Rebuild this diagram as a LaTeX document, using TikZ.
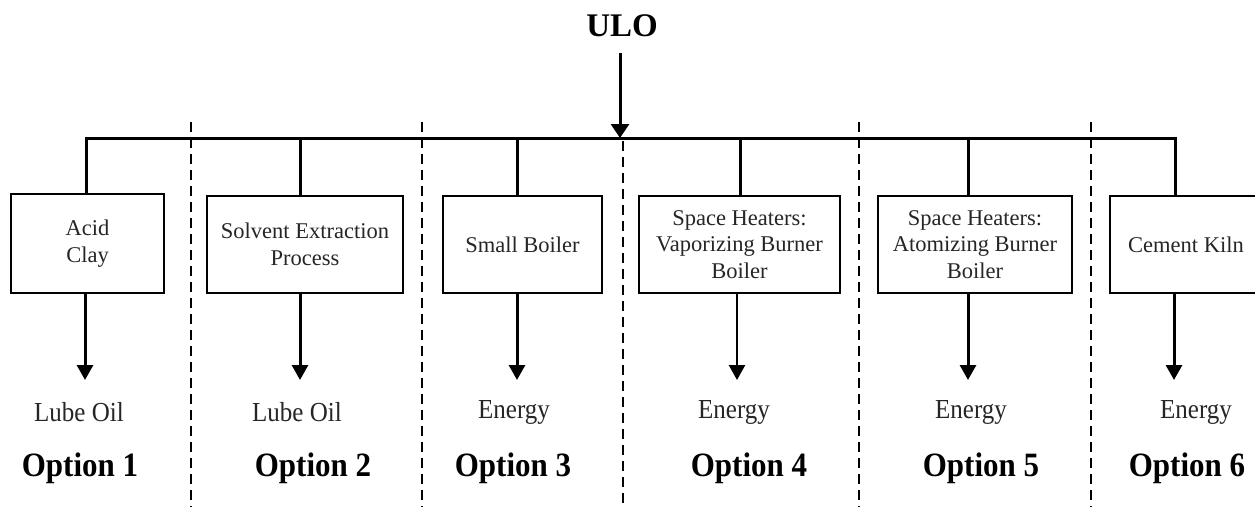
\documentclass[tikz,border=0pt]{standalone}
\usepackage{fontspec}
\setmainfont{Liberation Serif}
\usetikzlibrary{arrows.meta}
\tikzset{
  procbox/.style={draw=black, line width=2pt, inner sep=0pt, align=center,
    font=\fontsize{22.5}{26.5}\selectfont, text=black!85},
  outlabel/.style={inner sep=0pt, font=\fontsize{25}{28}\selectfont, text=black!85},
  optlabel/.style={inner sep=0pt, font=\bfseries\fontsize{31}{34}\selectfont},
  busline/.style={line width=3pt},
  flow/.style={line width=3pt, -{Triangle[length=15pt,width=16pt]}},
  divider/.style={line width=2.8pt, dash pattern=on 10pt off 6pt},
}
\newcommand{\vstretch}[1]{\scalebox{1}[1.1]{#1}}
\begin{document}
\begin{tikzpicture}[x=1pt,y=-1pt]
\clip (0,0) rectangle (1255,507);
\useasboundingbox (0,0) rectangle (1255,507);
\fill[white] (0,0) rectangle (1255,507);

% title
\node[inner sep=0pt, font=\bfseries\fontsize{33}{36}\selectfont] (ulo) at (622,26) {ULO};
\coordinate (ulotop) at (620,53);
\coordinate (hub) at (620,138);

% dividers
\coordinate (d1a) at (191,122); \coordinate (d1b) at (191,507);
\coordinate (d2a) at (422,122); \coordinate (d2b) at (422,507);
\coordinate (d3a) at (623,141); \coordinate (d3b) at (623,507);
\coordinate (d4a) at (859,122); \coordinate (d4b) at (859,507);
\coordinate (d5a) at (1091,122); \coordinate (d5b) at (1091,507);
\draw[divider, line width=2pt] (d1a) -- (d1b);
\draw[divider] (d2a) -- (d2b);
\draw[divider] (d3a) -- (d3b);
\draw[divider] (d4a) -- (d4b);
\draw[divider] (d5a) -- (d5b);

% boxes
\node[procbox, minimum width=153pt, minimum height=99pt] (b1) at (87.5,243.5) {Acid\\Clay};
\node[procbox, minimum width=196pt, minimum height=97pt] (b2) at (305,244.5) {Solvent Extraction\\Process};
\node[procbox, minimum width=159pt, minimum height=97pt] (b3) at (522.5,244.5) {Small Boiler};
\node[procbox, minimum width=201pt, minimum height=97pt] (b4) at (739.5,244.5) {Space Heaters:\\Vaporizing Burner\\Boiler};
\node[procbox, minimum width=194pt, minimum height=97pt] (b5) at (975,244.5) {Space Heaters:\\Atomizing Burner\\Boiler};
\node[procbox, minimum width=152pt, minimum height=97pt] (b6) at (1186,244.5) {Cement Kiln};

% taps on the bus
\coordinate (t1) at (86,138);
\coordinate (t2) at (300,138);
\coordinate (t3) at (517,138);
\coordinate (t4) at (740,138);
\coordinate (t5) at (968,138);
\coordinate (t6) at (1175,138);

\draw[busline] (t1 |- b1.north) -- (t1) -- (t6) -- (t6 |- b6.north);
\draw[busline] (t2) -- (t2 |- b2.north);
\draw[busline] (t3) -- (t3 |- b3.north);
\draw[busline] (t4) -- (t4 |- b4.north);
\draw[busline] (t5) -- (t5 |- b5.north);

\draw[line width=3pt, -{Triangle[length=14pt,width=18pt]}] (ulotop) -- (hub);

% outputs
\coordinate (e1) at (85,380);
\coordinate (e2) at (300,380);
\coordinate (e3) at (517,380);
\coordinate (e4) at (737,380);
\coordinate (e5) at (968,380);
\coordinate (e6) at (1174,380);
\draw[flow] (b1.south -| e1) -- (e1);
\draw[flow] (b2.south -| e2) -- (e2);
\draw[flow] (b3.south -| e3) -- (e3);
\draw[flow, line width=2.4pt] (b4.south -| e4) -- (e4);
\draw[flow] (b5.south -| e5) -- (e5);
\draw[flow] (b6.south -| e6) -- (e6);

\node[outlabel] (o1) at (79,412) {\vstretch{Lube Oil}};
\node[outlabel] (o2) at (297,412) {\vstretch{Lube Oil}};
\node[outlabel] (o3) at (514,412) {\vstretch{Energy}};
\node[outlabel] (o4) at (734,412) {\vstretch{Energy}};
\node[outlabel] (o5) at (971,412) {\vstretch{Energy}};
\node[outlabel] (o6) at (1196,412) {\vstretch{Energy}};

\node[optlabel] (p1) at (80,468) {\vstretch{Option 1}};
\node[optlabel] (p2) at (313,468) {\vstretch{Option 2}};
\node[optlabel] (p3) at (513,468) {\vstretch{Option 3}};
\node[optlabel] (p4) at (749,468) {\vstretch{Option 4}};
\node[optlabel] (p5) at (981,468) {\vstretch{Option 5}};
\node[optlabel] (p6) at (1187,468) {\vstretch{Option 6}};
\end{tikzpicture}
\end{document}
